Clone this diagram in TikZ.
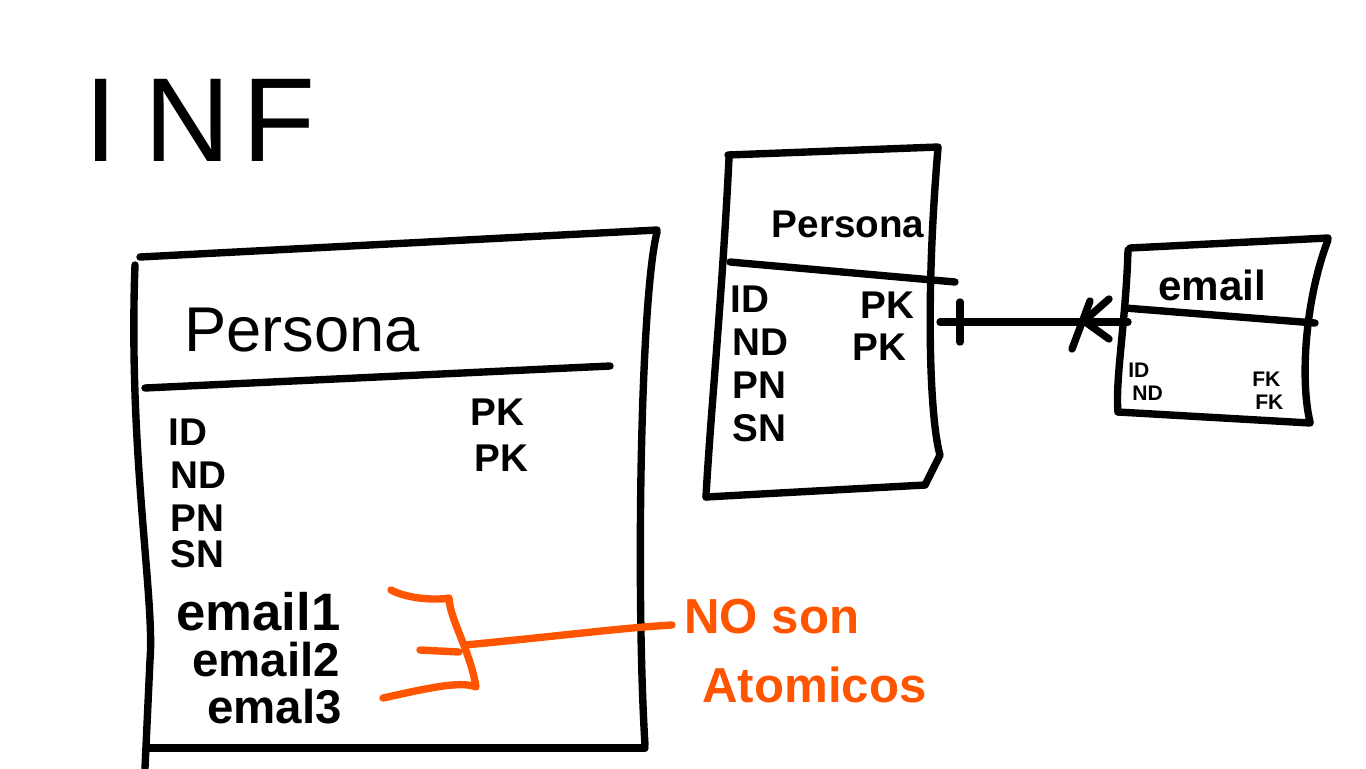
\documentclass[tikz,border=0pt]{standalone}
\usepackage{fontspec}
\setmainfont{Liberation Sans}
\usepackage{xcolor}
\usepackage{tikz}
\usetikzlibrary{positioning,calc}

\definecolor{marker}{HTML}{FF5500}

\begin{document}
\begin{tikzpicture}[x=0.02cm,y=-0.02cm,line cap=round,line join=round,
    ink/.style={line width=4.2pt},
    hl/.style={line width=4.2pt,draw=marker},
    title/.style={inner sep=0pt,font=\fontsize{36}{40}\selectfont},
    field/.style={inner sep=0pt,anchor=west,font=\bfseries\fontsize{22}{24}\selectfont},
    mail/.style={inner sep=0pt,anchor=west,font=\bfseries\fontsize{27}{28}\selectfont},
    small/.style={inner sep=0pt,anchor=west,font=\bfseries\fontsize{12}{12}\selectfont},
    note/.style={inner sep=0pt,anchor=west,text=marker,font=\bfseries\fontsize{28}{30}\selectfont}]

\useasboundingbox (0,0) rectangle (1366,768);

% heading
\node[inner sep=0pt,font=\fontsize{68}{70}\selectfont] (inf) at (200,120) {I\hspace{0.22em}N\hspace{0.1em}F};

% big table
\draw[ink] (140,257) -- (657,230);
\draw[ink] (135,265) .. controls (128,450) and (155,600) .. (150,660) -- (145,768);
\draw[ink] (657,232) .. controls (640,300) and (636,600) .. (645,745);
\draw[ink] (150,748) -- (645,748);
\draw[ink] (145,388) -- (610,366);
\node[title] (per1) at (302,330) {Persona};
\node[field] (id1) at (168,432) {ID};
\node[field] (nd1) at (170,475) {ND};
\node[field] (pn1) at (170,518) {PN};
\node[field] (sn1) at (170,554) {SN};
\node[field] (pk1) at (470,412) {PK};
\node[field] (pk2) at (474,458) {PK};
\node[mail,font=\bfseries\fontsize{30}{32}\selectfont] (em1) at (176,612) {email1};
\node[mail] (em2) at (192,660) {email2};
\node[mail] (em3) at (207,707) {emal3};

% orange bracket and note
\coordinate (br-top) at (449,598);
\coordinate (br-mid) at (465,645);
\coordinate (br-bot) at (476,687);
\draw[hl] (391,590) .. controls (410,600) and (440,600) .. (br-top)
  .. controls (450,620) and (470,650) .. (br-bot)
  .. controls (460,680) and (420,690) .. (383,698);
\draw[hl] (420,650) -- (459,652);
\node[note] (no) at (684,617) {NO son};
\node[note] (atom) at (702,685) {Atomicos};
\draw[hl] (br-mid) .. controls (560,636) and (620,628) .. ($(no.west)+(-12,8)$);

% medium table
\draw[ink] (728,155) -- (938,147);
\draw[ink] (729,158) .. controls (722,300) and (710,420) .. (706,497);
\draw[ink] (938,148) .. controls (925,300) and (930,420) .. (940,455) -- (925,485);
\draw[ink] (706,497) -- (925,485);
\draw[ink] (730,262) -- (955,282);
\node[title,font=\bfseries\fontsize{22}{24}\selectfont] (per2) at (848,224) {Persona};
\node[field] (id2) at (730,299) {ID};
\node[field] (nd2) at (732,342) {ND};
\node[field] (pn2) at (732,385) {PN};
\node[field] (sn2) at (732,428) {SN};
\node[field] (pk3) at (860,305) {PK};
\node[field] (pk4) at (852,347) {PK};

% email table
\draw[ink] (1130,248) -- (1328,238);
\draw[ink] (1128,250) .. controls (1126,320) and (1115,380) .. (1118,412);
\draw[ink] (1328,240) .. controls (1305,300) and (1300,380) .. (1310,422);
\draw[ink] (1118,412) -- (1310,423);
\draw[ink] (1125,308) -- (1315,323);
\node[title,font=\bfseries\fontsize{24}{26}\selectfont] (email) at (1212,285) {email};
\node[small] (id3) at (1128,370) {ID};
\node[small] (nd3) at (1132,393) {ND};
\node[small] (fk1) at (1252,379) {FK};
\node[small] (fk2) at (1255,402) {FK};

% one to many
\coordinate (from) at (940,322);
\coordinate (to) at (1128,322);
\coordinate (foot) at (1084,321);
\draw[ink] (from) -- (to);
\draw[ink] ($(from)+(20,-20)$) -- ($(from)+(20,20)$);
\draw[ink] ($(foot)+(25,-22)$) -- (foot) -- ($(foot)+(25,18)$);
\draw[ink] ($(foot)+(6,-20)$) -- ($(foot)+(-12,28)$);

\end{tikzpicture}
\end{document}
